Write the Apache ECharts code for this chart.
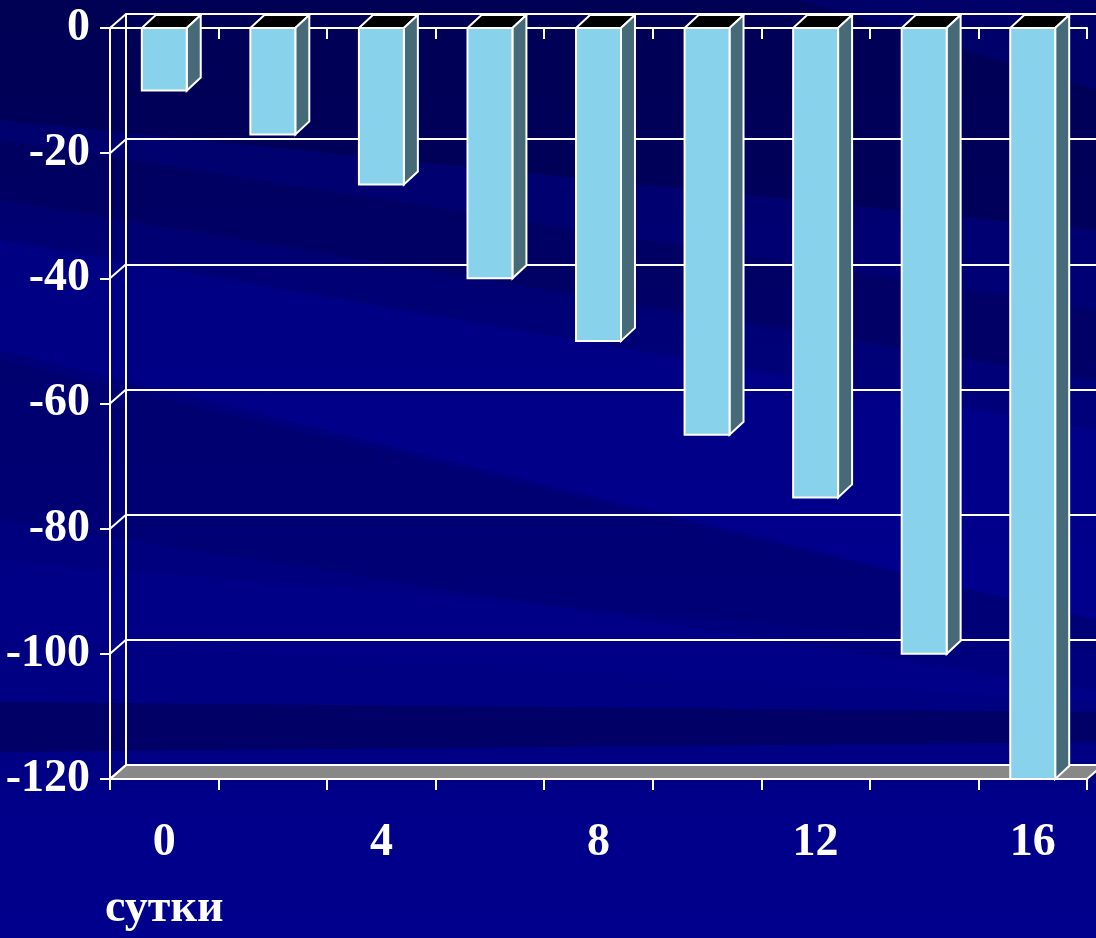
<!DOCTYPE html>
<html>
<head>
<meta charset="utf-8">
<style>
  html, body { margin: 0; padding: 0; background: #000078; }
  #chart { width: 1096px; height: 938px; }
</style>
<script src="https://cdn.jsdelivr.net/npm/echarts@6/dist/echarts.min.js"></script>
</head>
<body>
<div id="chart"></div>
<script>
// Days on the horizontal axis and the change recorded for each of them
const categories = ['0', '2', '4', '6', '8', '10', '12', '14', '16'];
const values = [-10, -17, -25, -40, -50, -65, -75, -100, -120];
const yMin = -120;
const yMax = 0;
const yStep = 20;
const xTitle = 'сутки';

// depth of the pseudo-3D box and of the bars (px)
const WALL_DX = 16, WALL_DY = -14;
const BAR_DX = 14, BAR_DY = -13;

const FONT = '"Liberation Serif", "Times New Roman", serif';
const WHITE = '#ffffff';

const chart = echarts.init(document.getElementById('chart'), null, { renderer: 'canvas' });

const yTicks = [];
for (let v = yMax; v >= yMin; v -= yStep) yTicks.push(v);

// faceted column: front, right side and black top
function renderBar(params, api) {
  const idx = api.value(0);
  const v = api.value(1);
  const top = api.coord([idx, 0]);
  const bot = api.coord([idx, v]);
  const w = api.size([1, 0])[0] * 0.414;
  const l = top[0] - w / 2, r = top[0] + w / 2;
  const yt = top[1], yb = bot[1];
  const line = { stroke: WHITE, lineWidth: 2, lineJoin: 'miter' };
  return {
    type: 'group',
    children: [
      { type: 'polygon', shape: { points: [[l, yt], [r, yt], [r + BAR_DX, yt + BAR_DY], [l + BAR_DX, yt + BAR_DY]] },
        style: Object.assign({ fill: '#000000' }, line) },
      { type: 'polygon', shape: { points: [[r, yt], [r + BAR_DX, yt + BAR_DY], [r + BAR_DX, yb + BAR_DY], [r, yb]] },
        style: Object.assign({ fill: '#466a78' }, line) },
      { type: 'rect', shape: { x: l, y: yt, width: r - l, height: yb - yt },
        style: Object.assign({ fill: '#88d2ec' }, line) }
    ]
  };
}

// left-wall depth lines at every tick, plus the grey floor at the minimum
function renderFrame(params, api) {
  const v = api.value(0);
  const cs = params.coordSys;
  const p = api.coord([0, v]);
  const x0 = cs.x, x1 = cs.x + cs.width;
  const y = p[1];
  const children = [
    { type: 'line', shape: { x1: x0, y1: y, x2: x0 + WALL_DX, y2: y + WALL_DY },
      style: { stroke: WHITE, lineWidth: 2 } }
  ];
  if (v === yMin) {
    children.unshift({
      type: 'polygon',
      shape: { points: [[x0, y], [x1, y], [x1 + WALL_DX, y + WALL_DY], [x0 + WALL_DX, y + WALL_DY]] },
      style: { fill: '#888888', stroke: WHITE, lineWidth: 2 }
    });
  }
  return { type: 'group', children: children };
}

// streaked navy backdrop
const bg = [
  { type: 'rect', shape: { x: 0, y: 0, width: 1096, height: 938 },
    style: { fill: new echarts.graphic.LinearGradient(0, 0, 0, 1, [
      { offset: 0, color: '#000068' }, { offset: 0.5, color: '#00007c' }, { offset: 1, color: '#00008a' }]) } },
  { type: 'polygon', shape: { points: [[0, 0], [800, 0], [1096, 90], [1096, 230], [0, 120]] },
    style: { fill: 'rgba(0,0,50,0.35)' } },
  { type: 'polygon', shape: { points: [[0, 140], [1096, 310], [1096, 380], [0, 200]] },
    style: { fill: 'rgba(0,0,50,0.22)' } },
  { type: 'polygon', shape: { points: [[0, 240], [1096, 430], [1096, 620], [0, 350]] },
    style: { fill: 'rgba(0,0,185,0.22)' } },
  { type: 'polygon', shape: { points: [[0, 360], [1096, 620], [1096, 690], [0, 520]] },
    style: { fill: 'rgba(0,0,60,0.15)' } },
  { type: 'polygon', shape: { points: [[0, 560], [1096, 650], [1096, 700], [0, 640]] },
    style: { fill: 'rgba(0,0,170,0.15)' } },
  { type: 'polygon', shape: { points: [[0, 702], [1096, 712], [1096, 742], [0, 752]] },
    style: { fill: 'rgba(0,0,50,0.35)' } },
  { type: 'rect', shape: { x: 0, y: 790, width: 1096, height: 148 },
    style: { fill: 'rgba(0,0,150,0.2)' } }
].map(function (el) { el.z = -100; el.silent = true; return el; });

const option = {
  animation: false,
  backgroundColor: '#000078',
  graphic: bg.concat([
    { type: 'text', left: 105, top: 886, z: 10,
      style: { text: xTitle, fill: WHITE, font: 'bold 46px ' + FONT } }
  ]),
  grid: [
    { left: 110, top: 28, right: 9, bottom: 159 },
    { left: 110 + WALL_DX, top: 28 + WALL_DY, right: 9 - WALL_DX, bottom: 159 - WALL_DY }
  ],
  xAxis: [
    { type: 'category', gridIndex: 0, position: 'bottom', data: categories,
      axisLine: { onZero: false, lineStyle: { color: WHITE, width: 2 } },
      axisTick: { show: true, inside: false, interval: 0, length: 11, lineStyle: { color: WHITE, width: 2 } },
      axisLabel: { interval: 1, margin: 41, color: WHITE, fontSize: 46, fontWeight: 'bold', fontFamily: FONT },
      splitLine: { show: false } },
    { type: 'category', gridIndex: 0, position: 'top', data: categories,
      axisLine: { onZero: false, lineStyle: { color: WHITE, width: 2 } },
      axisTick: { show: true, inside: true, interval: 0, length: 11, lineStyle: { color: WHITE, width: 2 } },
      axisLabel: { show: false }, splitLine: { show: false } },
    { type: 'category', gridIndex: 1, data: categories, show: false }
  ],
  yAxis: [
    { type: 'value', gridIndex: 0, min: yMin, max: yMax, interval: yStep,
      axisLine: { show: true, lineStyle: { color: WHITE, width: 2 } },
      axisTick: { show: true, inside: false, length: 10, lineStyle: { color: WHITE, width: 2 } },
      axisLabel: { margin: 20, color: WHITE, fontSize: 46, fontWeight: 'bold', fontFamily: FONT },
      splitLine: { show: false } },
    { type: 'value', gridIndex: 1, min: yMin, max: yMax, interval: yStep,
      axisLine: { show: true, lineStyle: { color: WHITE, width: 2 } },
      axisTick: { show: false }, axisLabel: { show: false },
      splitLine: { show: true, lineStyle: { color: WHITE, width: 2 } } }
  ],
  series: [
    { type: 'custom', name: 'frame', xAxisIndex: 0, yAxisIndex: 0, z: 1, silent: true,
      data: yTicks.map(function (v) { return [v]; }),
      encode: { y: 0 },
      renderItem: renderFrame },
    { type: 'custom', name: 'values', xAxisIndex: 0, yAxisIndex: 0, z: 3,
      data: values.map(function (v, i) { return [i, v]; }),
      encode: { x: 0, y: 1 },
      renderItem: renderBar }
  ]
};

chart.setOption(option);
</script>
</body>
</html>
